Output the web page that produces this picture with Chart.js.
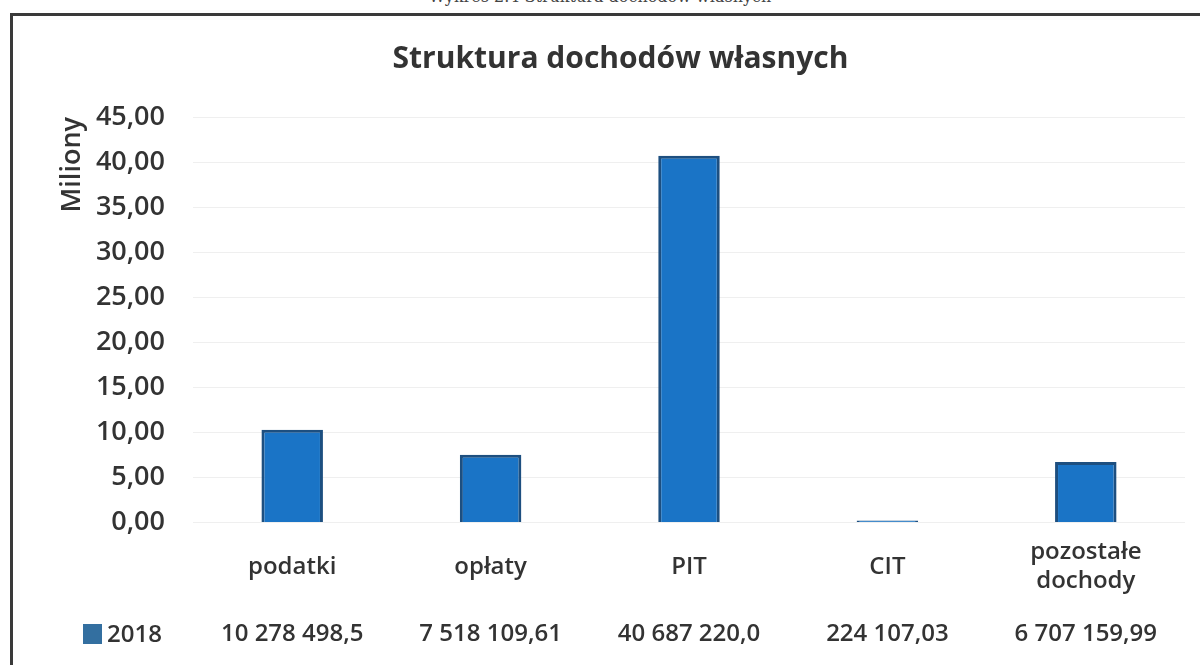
<!DOCTYPE html>
<html lang="pl">
<head>
<meta charset="utf-8">
<title>Struktura dochodów własnych</title>
<script src="https://cdn.jsdelivr.net/npm/chart.js@4.4.1/dist/chart.umd.min.js"></script>
<style>
    html, body { margin: 0; padding: 0; background: #fff; }
    body { width: 1200px; height: 665px; position: relative; overflow: hidden; }
    #caption {
        position: absolute; top: -13px; left: 0; width: 1200px; text-align: center;
        font: 16px "DejaVu Serif", serif; color: #444; white-space: nowrap;
    }
    #frame {
        position: absolute; left: 10px; top: 13px; width: 1200px; height: 670px;
        border-left: 3px solid #3a3a3a; border-top: 3px solid #3a3a3a;
    }
    #chartWrap { position: absolute; left: 0; top: 0; width: 1200px; height: 665px; }
</style>
</head>
<body>
<div id="caption">Wykres 2.4 Struktura dochodów własnych</div>
<div id="frame"></div>
<div id="chartWrap"><canvas id="incomeChart"></canvas></div>
<script>
const categories = ['podatki', 'opłaty', 'PIT', 'CIT', ['pozostałe', 'dochody']];
const seriesName = '2018';
const values2018 = [10278498.5, 7518109.61, 40687220.0, 224107.03, 6707159.99];
const tableLabels = ['10 278 498,5', '7 518 109,61', '40 687 220,0', '224 107,03', '6 707 159,99'];
const yTicks = [0, 5, 10, 15, 20, 25, 30, 35, 40, 45];

const textColor = '#333333';
const barColor = '#1a74c6';
const barEdge = '#1d4f80';
const legendColor = '#336fa0';
const fontFamily = '"Open Sans", "Liberation Sans", sans-serif';

// wiersz tabeli danych pod osią X (legenda + wartości)
const dataTablePlugin = {
    id: 'dataTable',
    afterDraw(chart) {
        const { ctx, scales: { x } } = chart;
        const rowY = 634;
        ctx.save();
        ctx.font = `600 24px ${fontFamily}`;
        ctx.fillStyle = textColor;
        ctx.textBaseline = 'middle';
        ctx.textAlign = 'center';
        tableLabels.forEach((label, i) => {
            ctx.fillText(label, x.getPixelForValue(i), rowY);
        });
        ctx.fillStyle = legendColor;
        ctx.fillRect(83, rowY - 10, 19, 20);
        ctx.fillStyle = textColor;
        ctx.textAlign = 'left';
        ctx.fillText(seriesName, 107, rowY + 1);
        ctx.restore();
    }
};

new Chart(document.getElementById('incomeChart'), {
    type: 'bar',
    data: {
        labels: categories,
        datasets: [{
            label: seriesName,
            data: values2018.map(v => v / 1e6),
            backgroundColor: barColor,
            borderColor: barEdge,
            borderWidth: 3,
            barPercentage: 0.31,
            categoryPercentage: 1
        }]
    },
    options: {
        responsive: true,
        maintainAspectRatio: false,
        animation: false,
        layout: { padding: { left: 56, right: 15, top: 0, bottom: 25 } },
        plugins: {
            legend: { display: false },
            tooltip: { enabled: false },
            title: {
                display: true,
                text: 'Struktura dochodów własnych',
                color: textColor,
                font: { family: fontFamily, size: 30, weight: 'bold' },
                padding: { top: 41, bottom: 40 }
            }
        },
        scales: {
            x: {
                grid: { display: false, drawTicks: false },
                border: { display: false },
                ticks: {
                    color: textColor,
                    font: { family: fontFamily, size: 24, weight: '600', lineHeight: 1.2 },
                    padding: 30,
                    maxRotation: 0,
                    autoSkip: false,
                    crossAlign: 'center'
                }
            },
            y: {
                min: 0,
                max: 45,
                afterBuildTicks: scale => { scale.ticks = yTicks.map(v => ({ value: v })); },
                afterFit: scale => { scale.width = 137; },
                grid: { color: '#efefef', lineWidth: 1, drawTicks: false },
                border: { display: false },
                ticks: {
                    color: textColor,
                    font: { family: fontFamily, size: 27, weight: '600' },
                    padding: 28,
                    callback: v => v.toFixed(2).replace('.', ',')
                },
                title: {
                    display: true,
                    text: 'Miliony',
                    align: 'end',
                    color: textColor,
                    font: { family: fontFamily, size: 27, weight: '600' },
                    padding: 0
                }
            }
        }
    },
    plugins: [dataTablePlugin]
});
</script>
</body>
</html>
